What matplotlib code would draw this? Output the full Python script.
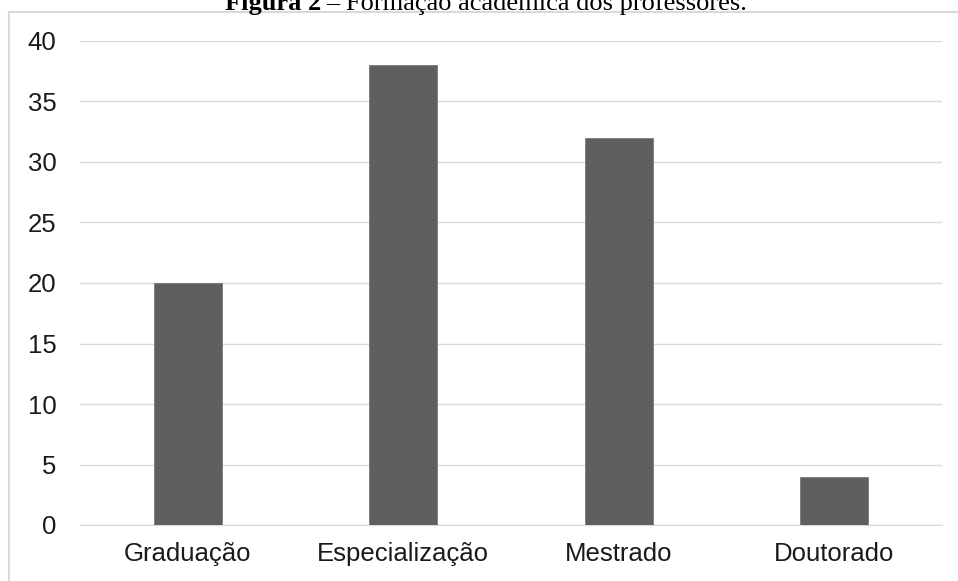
import matplotlib
matplotlib.use("Agg")
import matplotlib.pyplot as plt
from matplotlib.patches import Rectangle

categories = ["Graduação", "Especialização", "Mestrado", "Doutorado"]
values = [20, 38, 32, 4]
yticks = [0, 5, 10, 15, 20, 25, 30, 35, 40]

W, H = 958, 581
fig = plt.figure(figsize=(W / 100, H / 100), dpi=100)

# outer chart border
fig.patches.append(Rectangle((9 / W, -0.05), 1.0, (H - 12) / H + 0.05,
                             transform=fig.transFigure, fill=False,
                             edgecolor="#d9d9d9", linewidth=1.5))

# caption at top (cropped in the source image)
t1 = fig.text(225 / W, 1 - 10 / H, "Figura 2", ha="left", va="baseline",
              fontsize=19, fontweight="bold", family="Liberation Serif")
fig.canvas.draw()
bb = t1.get_window_extent()
fig.text((bb.x1 + 5) / W, 1 - 10 / H, "– Formação acadêmica dos professores.", ha="left",
         va="baseline", fontsize=19, family="Liberation Serif")

ax = fig.add_axes([80 / W, 1 - 525 / H, 862 / W, (525 - 41) / H])
x = range(len(categories))
ax.bar(x, values, width=0.315, color="#5f5f5f", edgecolor="#7a7a7a", linewidth=0.6, zorder=3)
ax.set_xlim(-0.5, len(categories) - 0.5)
ax.set_ylim(0, 40)
ax.set_yticks(yticks)
ax.set_yticklabels([str(t) for t in yticks])
ax.set_xticks(list(x))
ax.set_xticklabels(categories)
ax.grid(axis="y", color="#d9d9d9", linewidth=1)
ax.set_axisbelow(True)
for s in ["top", "right", "left"]:
    ax.spines[s].set_visible(False)
ax.spines["bottom"].set_color("#d9d9d9")
ax.tick_params(axis="both", length=0, labelsize=18.5, colors="#000000", labelcolor="#1a1a1a")
ax.tick_params(axis="y", pad=17)
ax.tick_params(axis="x", pad=12)
for lbl in ax.get_xticklabels() + ax.get_yticklabels():
    lbl.set_family("Liberation Sans")

fig.savefig("out.png", dpi=100)
